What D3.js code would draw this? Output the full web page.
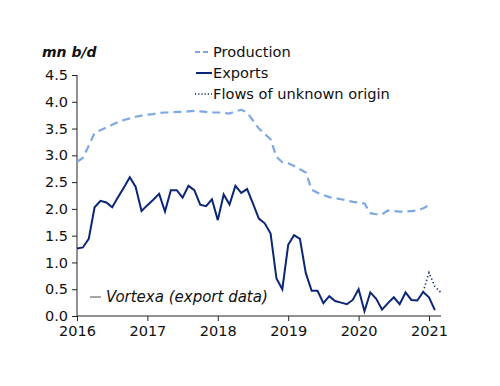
<!DOCTYPE html>
<html><head><meta charset="utf-8">
<script src="https://cdn.jsdelivr.net/npm/d3@7"></script>
<style>body{margin:0;background:#fff}svg{display:block}text{font-family:"DejaVu Sans",sans-serif;fill:#111}</style>
</head><body><svg id="c" width="500" height="386"></svg>
<script>
const startYear = 2016;
const production = [2.88,2.95,3.18,3.42,3.47,3.52,3.57,3.62,3.66,3.69,3.72,3.74,
 3.76,3.77,3.79,3.80,3.80,3.81,3.81,3.82,3.83,3.82,3.81,3.80,
 3.80,3.79,3.78,3.82,3.85,3.80,3.65,3.50,3.40,3.30,2.97,2.87,
 2.85,2.80,2.74,2.68,2.36,2.30,2.26,2.22,2.20,2.18,2.16,2.13,
 2.12,2.10,1.92,1.90,1.90,1.97,1.96,1.95,1.95,1.96,1.97,2.01,
 2.07];
const exports = [1.26,1.28,1.44,2.03,2.15,2.12,2.03,2.22,2.40,2.59,2.41,1.96,
 2.07,2.17,2.28,1.95,2.35,2.35,2.21,2.43,2.35,2.08,2.05,2.18,
 1.79,2.27,2.08,2.43,2.30,2.37,2.10,1.82,1.73,1.54,0.70,0.50,
 1.33,1.51,1.44,0.80,0.47,0.47,0.24,0.37,0.28,0.25,0.22,0.30,
 0.50,0.09,0.44,0.32,0.12,0.24,0.35,0.22,0.44,0.30,0.29,0.45,
 0.35,0.11];
const unknownStart = 59; // Dec 2020
const unknown = [0.45,0.81,0.55,0.44];
const yTicks = [0,0.5,1,1.5,2,2.5,3,3.5,4,4.5];
const xTicks = [2016,2017,2018,2019,2020,2021];
const legend = ["Production","Exports","Flows of unknown origin"];
const unitLabel = "mn b/d";
const sourceLabel = "Vortexa (export data)";

const svg = d3.select("#c");
const x = d3.scaleLinear().domain([2016,2021]).range([77,429]);
const y = d3.scaleLinear().domain([0,4.5]).range([316,75]);
const t = i => startYear + i/12;

const prodCol = "#7ea8e2", expCol = "#0c2677";

// axes
const ya = svg.append("g").attr("transform","translate(77,0)")
  .call(d3.axisLeft(y).tickValues(yTicks).tickFormat(d3.format(".1f")).tickSize(5).tickPadding(4));
ya.select(".domain").attr("stroke","#222").attr("d","M0,75V316");
ya.selectAll(".tick line").attr("stroke","#222");
ya.selectAll("text").style("font-size","14.5px").attr("fill","#111");

const xa = svg.append("g").attr("transform","translate(0,316)")
  .call(d3.axisBottom(x).tickValues(xTicks).tickFormat(d3.format("d")).tickSize(5).tickPadding(5));
xa.select(".domain").attr("stroke","#222").attr("d","M77,0H441");
xa.selectAll(".tick line").attr("stroke","#222");
xa.selectAll("text").style("font-size","14.5px").attr("fill","#111");

// lines
const line = d3.line().x(d=>x(d[0])).y(d=>y(d[1]));
svg.append("path").datum(production.map((v,i)=>[t(i),v]))
  .attr("d",line).attr("fill","none").attr("stroke",prodCol).attr("stroke-width",2.2).attr("stroke-dasharray","8,5");
svg.append("path").datum(unknown.map((v,i)=>[t(unknownStart+i),v]))
  .attr("d",line).attr("fill","none").attr("stroke",expCol).attr("stroke-width",1.6).attr("stroke-dasharray","1.3,2.5");
svg.append("path").datum(exports.map((v,i)=>[t(i),v]))
  .attr("d",line).attr("fill","none").attr("stroke",expCol).attr("stroke-width",2);

// unit label
svg.append("text").attr("x",42).attr("y",57).text(unitLabel)
  .style("font-size","14px").style("font-style","italic").style("font-weight","bold");

// legend
const lg = svg.append("g");
const ly = [52,73,94];
lg.append("line").attr("x1",195).attr("x2",211).attr("y1",ly[0]).attr("y2",ly[0]).attr("stroke",prodCol).attr("stroke-width",2.2).attr("stroke-dasharray","5,3");
lg.append("line").attr("x1",196).attr("x2",212).attr("y1",ly[1]).attr("y2",ly[1]).attr("stroke",expCol).attr("stroke-width",2);
lg.append("line").attr("x1",195).attr("x2",212).attr("y1",ly[2]).attr("y2",ly[2]).attr("stroke",expCol).attr("stroke-width",1.4).attr("stroke-dasharray","1.2,2");
legend.forEach((s,i)=>lg.append("text").attr("x",213).attr("y",ly[i]+5).text(s).style("font-size","14.6px"));

// source note
svg.append("line").attr("x1",90).attr("x2",101).attr("y1",297).attr("y2",297).attr("stroke","#777").attr("stroke-width",1.3);
svg.append("text").attr("x",106).attr("y",302).text(sourceLabel)
  .style("font-size","15px").style("font-style","italic");
</script></body></html>
